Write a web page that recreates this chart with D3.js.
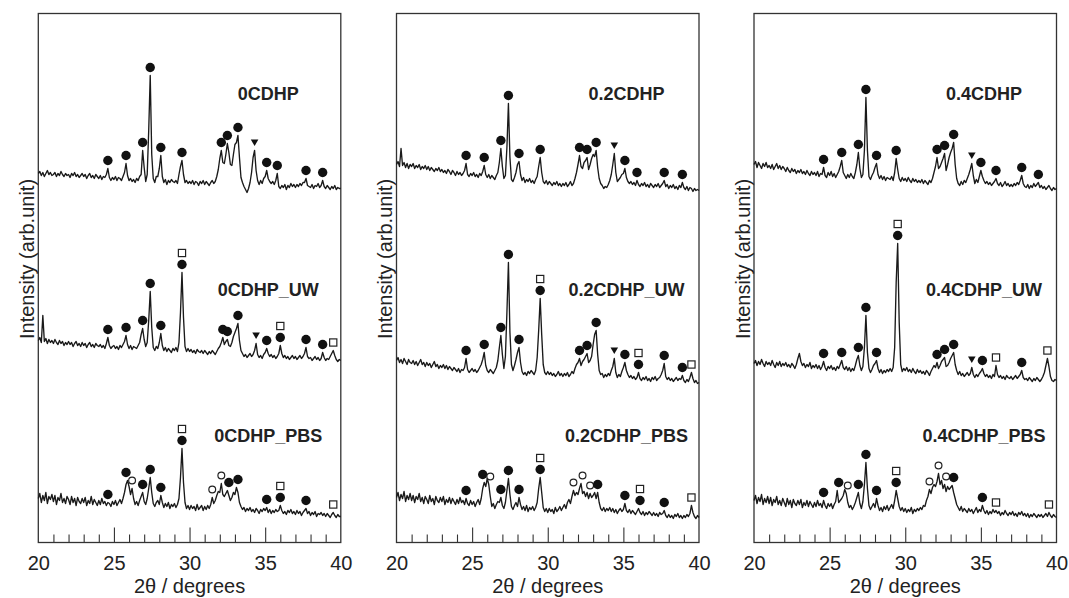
<!DOCTYPE html>
<html>
<head>
<meta charset="utf-8">
<script src="https://cdn.jsdelivr.net/npm/d3@7"></script>
<style>
  body { margin: 0; background: #fff; }
  text { font-family: "Liberation Sans", Arial, sans-serif; fill: #222; }
</style>
</head>
<body>
<div id="container"></div>
<script>
const width = 1069;
const height = 598;

// 2theta sampling grid of every trace: 20.0 .. 40.0, step 0.1
const thetaStart = 20;
const thetaStep = 0.1;

// ---- 0CDHP panel ----
const s0 = [
  29,31,27,30,26,29,32,28,30,27, 28,30,26,29,27,31,28,26,29,27,
  28,25,29,27,30,26,28,25,27,29, 26,28,24,27,29,25,27,24,28,26,
  24,27,23,26,25,28,34,25,22,25, 23,26,22,25,24,22,26,30,39,27,
  22,24,21,23,20,24,22,26,28,52, 35,21,28,72,127,48,24,20,26,26,
  34,47,26,20,23,18,22,20,23,21, 20,22,19,28,36,42,28,20,22,19,
  21,19,22,18,21,20,17,21,19,22, 18,21,19,17,20,22,19,21,26,33,
  44,52,40,39,48,59,50,38,37,48, 58,60,67,45,25,20,16,13,10,14,
  20,30,45,52,32,22,18,22,19,24, 26,32,24,21,19,21,18,22,29,16,
  14,17,15,18,13,17,15,19,16,18, 15,18,16,19,17,20,20,24,17,16,
  15,18,14,17,16,19,15,17,22,16, 14,17,15,13,16,14,17,13,15,14,
  14];
const s0uw = [
  32,35,30,57,31,34,29,33,30,32, 29,33,30,28,32,29,31,27,30,28,
  31,28,30,26,29,31,27,29,26,30, 27,29,25,28,30,26,28,25,29,27,
  26,28,25,27,24,29,35,27,24,26, 27,24,26,23,27,25,28,31,37,28,
  24,27,23,26,25,24,27,30,38,44, 33,26,30,52,81,45,25,22,26,24,
  30,39,27,22,25,21,24,22,20,24, 22,25,21,30,60,100,55,26,21,24,
  21,23,20,22,19,23,21,20,22,19, 22,20,18,21,19,22,20,18,21,24,
  26,30,35,28,31,33,27,26,30,36, 40,44,49,32,22,19,16,18,15,17,
  19,16,18,22,29,18,15,17,14,18, 20,24,19,16,18,15,17,14,16,19,
  27,19,15,17,14,16,13,15,17,14, 16,13,15,17,14,16,19,25,16,14,
  15,12,14,16,13,15,12,14,20,15, 12,14,13,16,19,22,17,13,11,13,
  12];
const s0pbs = [
  24,29,20,27,22,30,19,26,23,28, 21,27,18,25,22,29,20,24,19,26,
  23,18,26,20,24,17,25,21,19,24, 20,25,17,22,19,26,18,23,20,17,
  22,18,24,19,21,17,20,19,16,21, 18,22,17,20,23,19,24,30,38,42,
  36,28,34,24,18,21,17,22,26,30, 21,18,24,34,45,30,19,16,20,22,
  18,27,20,15,19,16,20,14,18,16, 19,15,18,24,45,74,40,20,14,17,
  13,17,14,16,12,18,13,15,17,12, 16,13,17,14,18,25,19,22,27,31,
  30,39,28,26,29,32,27,22,25,30, 28,35,30,20,16,13,15,11,14,12,
  15,11,13,10,14,12,9,13,11,14, 12,15,10,13,9,12,10,13,11,12,
  17,12,9,11,8,12,10,13,9,11, 8,12,9,11,7,10,12,14,9,11,
  7,10,8,11,6,9,8,10,7,9, 6,9,7,5,8,10,7,5,8,6,
  6];

// ---- 0.2CDHP panel ----
const s2 = [
  38,41,36,54,37,40,35,39,34,38, 36,39,34,37,35,38,33,36,34,37,
  33,36,32,35,33,31,34,32,35,31, 33,30,32,29,33,31,28,32,30,27,
  31,28,30,27,29,32,39,28,26,29, 27,30,26,28,25,29,27,31,37,28,
  25,28,24,27,25,23,27,30,40,54, 36,24,27,55,99,45,23,21,25,30,
  38,41,28,22,25,20,23,21,24,20, 22,19,23,26,36,45,30,21,19,22,
  18,21,19,17,20,18,21,17,19,16, 19,17,20,16,18,21,17,19,24,30,
  38,47,36,34,40,42,45,33,38,44, 48,46,52,35,24,19,17,14,16,15,
  18,22,28,38,49,30,21,23,25,28, 29,34,25,21,19,21,18,20,17,22,
  18,16,19,17,20,16,18,15,19,17, 15,18,16,19,15,17,19,22,16,18,
  14,17,15,18,14,16,13,17,15,20, 15,13,16,12,15,14,11,14,12,13,
  12];
const s2uw = [
  32,35,30,33,29,34,31,28,33,30, 29,32,28,31,27,30,33,28,30,26,
  30,27,29,25,28,31,26,28,24,27, 25,28,24,27,23,26,24,22,25,23,
  21,24,20,23,22,25,34,23,20,22, 24,21,23,20,22,25,28,33,40,27,
  22,20,23,21,19,22,25,32,45,57, 38,24,36,80,130,60,28,22,27,33,
  40,45,30,21,18,20,17,21,19,22, 20,18,22,35,62,94,58,28,20,18,
  21,18,20,17,19,16,18,21,17,19, 16,19,17,20,16,18,21,19,24,28,
  30,34,27,31,33,36,39,30,32,36, 48,58,62,38,22,18,19,15,18,16,
  19,17,22,26,34,20,15,18,16,21, 25,30,22,18,15,17,14,16,13,15,
  20,14,12,15,13,16,12,14,11,15, 13,16,12,14,15,18,22,29,16,13,
  15,12,14,11,13,15,12,14,13,17, 12,10,13,11,15,20,14,10,12,9,
  10];
const s2pbs = [
  25,30,22,28,24,31,21,27,23,29, 22,27,20,26,23,29,21,25,19,26,
  23,19,27,21,24,18,26,22,20,25, 21,26,18,23,20,25,19,24,21,18,
  23,19,25,20,22,18,24,19,17,22, 18,21,16,20,23,18,24,34,40,36,
  44,38,26,16,19,14,18,21,20,25, 17,14,20,32,44,28,16,13,17,20,
  16,25,18,13,16,12,17,11,15,13, 16,12,15,20,34,45,30,15,11,14,
  10,14,11,13,9,15,11,13,16,12, 15,18,14,20,23,19,26,32,27,30,
  28,34,39,29,31,26,30,24,29,25, 27,30,24,30,20,14,12,15,11,14,
  12,15,11,14,10,13,9,12,14,11, 13,19,12,10,13,9,12,10,8,11,
  14,10,8,11,7,10,8,11,9,7, 10,7,9,6,10,8,9,12,7,5,
  8,5,7,4,8,6,9,5,7,4, 7,5,8,6,9,17,10,6,4,7,
  5];

// ---- 0.4CDHP panel ----
const s4 = [
  38,41,35,40,37,34,39,36,40,35, 37,34,38,33,36,39,34,37,33,36,
  34,31,35,32,30,34,31,33,29,32, 30,33,29,31,28,32,29,27,31,28,
  30,27,31,26,29,28,35,27,25,30, 27,31,26,29,25,28,31,36,42,30,
  27,24,28,25,29,26,24,30,38,50, 34,25,28,52,105,52,26,23,27,30,
  35,39,28,24,27,23,26,22,25,24, 23,26,22,30,44,33,24,21,25,22,
  24,21,25,22,20,24,21,23,20,22, 20,23,19,22,20,18,22,20,24,30,
  36,45,34,36,40,44,49,32,38,45, 50,54,60,38,24,19,17,21,18,22,
  20,24,28,33,39,27,19,23,20,26, 32,26,22,19,21,18,20,17,19,21,
  24,19,17,20,16,18,21,17,19,16, 18,16,19,17,20,18,22,27,19,16,
  15,18,14,17,15,19,16,18,20,15, 17,14,16,13,15,17,14,12,15,13,
  14];
const s4uw = [
  29,32,27,31,28,33,29,26,31,28, 30,27,32,28,25,30,27,31,26,29,
  27,30,26,28,25,29,27,24,28,34, 39,31,27,29,25,28,26,30,24,27,
  25,28,24,27,23,26,31,25,22,26, 24,27,23,25,22,26,24,28,32,25,
  23,26,22,25,21,24,22,27,33,37, 27,22,26,45,77,40,24,20,23,27,
  29,32,24,20,23,19,22,20,23,21, 24,21,25,45,110,149,70,28,21,24,
  22,25,21,23,20,24,21,19,23,20, 22,19,21,18,22,20,17,21,24,27,
  25,30,24,27,31,33,35,26,27,30, 34,37,40,28,22,18,21,17,19,16,
  18,20,17,19,25,18,15,18,16,19, 21,24,19,16,18,15,17,14,18,16,
  27,18,15,17,14,16,13,17,15,14, 16,13,15,17,14,16,18,22,15,13,
  14,12,15,13,11,14,12,15,13,11, 13,16,20,27,34,26,16,12,11,13,
  12];
const s4pbs = [
  22,27,19,25,21,28,18,24,20,26, 19,25,17,23,20,26,18,22,17,24,
  20,16,24,18,22,15,23,19,17,22, 18,23,15,20,17,22,16,21,18,15,
  20,16,22,17,19,15,22,17,14,19, 16,19,14,18,21,32,20,22,24,27,
  33,29,20,15,17,13,16,20,25,30, 19,14,21,38,60,34,17,13,16,19,
  15,24,17,12,15,11,16,13,17,12, 15,18,14,22,32,24,16,12,15,11,
  14,10,13,11,15,9,13,11,14,12, 15,13,17,16,22,26,33,29,35,38,
  36,41,49,38,42,34,38,31,36,33, 35,37,30,24,18,15,12,16,11,14,
  12,10,14,11,13,9,12,15,10,13, 11,17,12,9,12,8,11,9,13,10,
  12,9,11,7,10,8,12,9,7,10, 8,11,7,9,6,10,8,11,7,9,
  6,9,5,8,6,9,7,5,8,6, 8,5,7,9,6,10,7,5,8,6,
  5];

// peak markers: [2theta, stack of symbols from the peak upward]
// c = filled circle, o = open circle, t = triangle, s = open square
const m0 = [[24.6,"c"],[25.8,"c"],[26.9,"c"],[27.4,"c"],[28.1,"c"],[29.5,"c"],[32.1,"c"],[32.5,"c"],[33.2,"c"],[34.3,"t"],[35.1,"c"],[35.8,"c"],[37.7,"c"],[38.8,"c"]];
const m0uw = [[24.6,"c"],[25.8,"c"],[26.9,"c"],[27.4,"c"],[28.1,"c"],[29.5,"cs"],[32.2,"c"],[32.5,"c"],[33.2,"c"],[34.4,"t"],[35.1,"c"],[36.0,"cs"],[37.7,"c"],[38.8,"c"],[39.5,"s"]];
const m0pbs = [[24.6,"c"],[25.8,"c"],[26.2,"o"],[26.9,"c"],[27.4,"c"],[28.1,"c"],[29.5,"cs"],[31.5,"o"],[32.1,"o"],[32.6,"c"],[33.2,"c"],[35.1,"c"],[36.0,"cs"],[37.7,"c"],[39.5,"s"]];
const m2 = [[24.6,"c"],[25.8,"c"],[26.9,"c"],[27.4,"c"],[28.1,"c"],[29.5,"c"],[32.1,"c"],[32.6,"c"],[33.2,"c"],[34.4,"t"],[35.1,"c"],[35.9,"c"],[37.7,"c"],[38.9,"c"]];
const m2uw = [[24.6,"c"],[25.8,"c"],[26.9,"c"],[27.4,"c"],[28.1,"c"],[29.5,"cs"],[32.1,"c"],[32.6,"c"],[33.2,"c"],[34.4,"t"],[35.1,"c"],[36.0,"cs"],[37.7,"c"],[38.9,"c"],[39.5,"s"]];
const m2pbs = [[24.6,"c"],[25.7,"c"],[26.2,"o"],[26.9,"c"],[27.4,"c"],[28.1,"c"],[29.5,"cs"],[31.7,"o"],[32.3,"o"],[32.8,"o"],[33.3,"c"],[35.1,"c"],[36.1,"cs"],[37.7,"c"],[39.5,"s"]];
const m4 = [[24.6,"c"],[25.8,"c"],[26.9,"c"],[27.4,"c"],[28.1,"c"],[29.4,"c"],[32.1,"c"],[32.6,"c"],[33.2,"c"],[34.4,"t"],[35.0,"c"],[36.0,"c"],[37.7,"c"],[38.8,"c"]];
const m4uw = [[24.6,"c"],[25.8,"c"],[26.9,"c"],[27.4,"c"],[28.1,"c"],[29.5,"cs"],[32.1,"c"],[32.6,"c"],[33.2,"c"],[34.4,"t"],[35.1,"c"],[36.0,"s"],[37.7,"c"],[39.4,"s"]];
const m4pbs = [[24.6,"c"],[25.6,"c"],[26.2,"o"],[26.9,"c"],[27.4,"c"],[28.1,"c"],[29.4,"cs"],[31.6,"o"],[32.2,"o"],[32.7,"o"],[33.2,"c"],[35.1,"c"],[36.0,"s"],[39.5,"s"]];

const labels0 = ["0CDHP", "0CDHP_UW", "0CDHP_PBS"];
const labels2 = ["0.2CDHP", "0.2CDHP_UW", "0.2CDHP_PBS"];
const labels4 = ["0.4CDHP", "0.4CDHP_UW", "0.4CDHP_PBS"];

const tickLabels = [20, 25, 30, 35, 40];
const minorTicks = d3.range(21, 40);

// layout
const panelLeft = [38.3, 396.5, 754];
const panelW = 302.5;
const plotTop = 13.5;
const plotBottom = 542.5;
const labelBaselines = [100, 296, 442];
const labelTheta = 35.2;

const panels = [
  {series: [s0, s0uw, s0pbs], marks: [m0, m0uw, m0pbs], labels: labels0, offsets: [340, 170, 20]},
  {series: [s2, s2uw, s2pbs], marks: [m2, m2uw, m2pbs], labels: labels2, offsets: [340, 150, 20]},
  {series: [s4, s4uw, s4pbs], marks: [m4, m4uw, m4pbs], labels: labels4, offsets: [340, 150, 20]}
];

const viz = d3.select("#container").append("svg").attr("width", width).attr("height", height);

const xScale = d3.scaleLinear().domain([20, 40]).range([0, panelW]);
const yScale = d3.scaleLinear().domain([0, plotBottom - plotTop]).range([plotBottom, plotTop]);

const line = d3.line().x((d, i) => xScale(thetaStart + i * thetaStep));

panels.forEach((p, pi) => {
  const g = viz.append("g").attr("transform", "translate(" + panelLeft[pi] + ",0)");

  // frame
  g.append("rect").attr("x", 0).attr("y", plotTop).attr("width", panelW).attr("height", plotBottom - plotTop)
    .attr("fill", "none").attr("stroke", "#333").attr("stroke-width", 1.3);

  // inward ticks
  const tickAxis = d3.axisBottom(xScale).tickValues(minorTicks).tickSize(-8).tickFormat("");
  const ticks = g.append("g").attr("transform", "translate(0," + plotBottom + ")").call(tickAxis);
  ticks.select(".domain").remove();
  ticks.selectAll(".tick line").attr("stroke", "#333").attr("stroke-width", 1.1)
    .attr("y2", d => d % 5 === 0 ? -15 : -8);

  const labelAxis = d3.axisBottom(xScale).tickValues(tickLabels).tickSize(0).tickFormat(d3.format("d"));
  const lab = g.append("g").attr("transform", "translate(0," + plotBottom + ")").call(labelAxis);
  lab.select(".domain").remove();
  lab.selectAll("text").attr("y", 27.5).attr("dy", null).attr("font-size", 20)
    .attr("font-family", "'Liberation Sans', Arial, sans-serif").attr("fill", "#222");

  g.append("text").attr("x", panelW / 2).attr("y", 593).attr("text-anchor", "middle")
    .attr("font-size", 20).text("2\u03b8 / degrees");

  g.append("text").attr("transform", "translate(-4.5," + 259 + ") rotate(-90)")
    .attr("text-anchor", "middle").attr("font-size", 20).text("Intensity (arb.unit)");

  p.series.forEach((vals, si) => {
    const off = p.offsets[si];
    g.append("path").datum(vals)
      .attr("d", line.y(d => yScale(d + off)))
      .attr("fill", "none").attr("stroke", "#1a1a1a").attr("stroke-width", 1.35)
      .attr("stroke-linejoin", "round");

    g.append("text").attr("x", xScale(labelTheta)).attr("y", labelBaselines[si])
      .attr("text-anchor", "middle").attr("font-size", 18).attr("font-weight", "bold")
      .text(p.labels[si]);

    p.marks[si].forEach(([theta, kinds]) => {
      const idx = Math.round((theta - thetaStart) / thetaStep);
      const peak = d3.max(vals.slice(Math.max(0, idx - 1), idx + 2));
      const cx = xScale(theta);
      const baseY = yScale(peak + off) - 8;
      kinds.split("").forEach((k, ki) => {
        const cy = baseY - ki * 11.5;
        if (k === "c") {
          g.append("circle").attr("cx", cx).attr("cy", cy).attr("r", 4.7).attr("fill", "#111");
        } else if (k === "o") {
          g.append("circle").attr("cx", cx).attr("cy", cy).attr("r", 3.4)
            .attr("fill", "#fff").attr("stroke", "#222").attr("stroke-width", 1.2);
        } else if (k === "s") {
          g.append("rect").attr("x", cx - 3.6).attr("y", cy - 3.6).attr("width", 7.2).attr("height", 7.2)
            .attr("fill", "#fff").attr("stroke", "#222").attr("stroke-width", 1.2);
        } else if (k === "t") {
          g.append("path").attr("d", `M${cx - 3.8},${cy - 3} L${cx + 3.8},${cy - 3} L${cx},${cy + 3.5} Z`)
            .attr("fill", "#111");
        }
      });
    });
  });
});
</script>
</body>
</html>
